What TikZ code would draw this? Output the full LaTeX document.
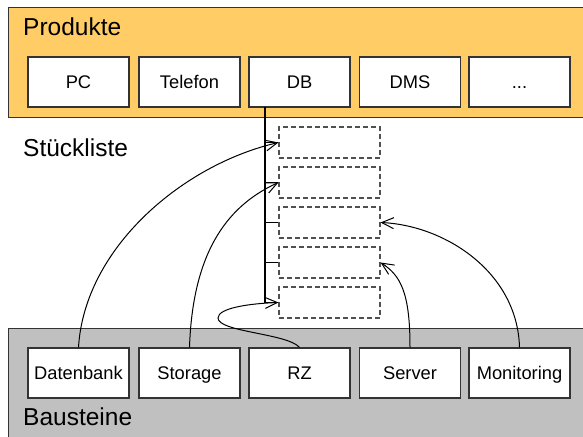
\documentclass[tikz,border=0pt]{standalone}
\usepackage{fontspec}
\setmainfont{Liberation Sans}
\usetikzlibrary{arrows.meta}
\definecolor{prodfill}{RGB}{255,204,102}
\definecolor{bausfill}{RGB}{192,192,192}
\definecolor{edgegray}{RGB}{51,51,51}
\definecolor{slotgray}{RGB}{80,80,80}
\begin{document}
\begin{tikzpicture}[x=1pt,y=-1pt,
  groupbox/.style={draw=edgegray, line width=1.2pt, anchor=north west, inner sep=0pt},
  itembox/.style={draw=edgegray, fill=white, line width=1.2pt, minimum width=101pt, minimum height=50pt, inner sep=0pt, text height=13.1pt, text depth=0pt, font=\fontsize{18.3}{20}\selectfont},
  slotbox/.style={draw=slotgray, line width=1.1pt, dash pattern=on 5pt off 3pt, minimum width=101pt, minimum height=31pt, inner sep=0pt},
  title/.style={anchor=base west, inner sep=0pt, font=\fontsize{24.5}{28}\selectfont},
  link/.style={line width=1pt, -{Straight Barb[length=12pt,width=11pt]}},
  treeline/.style={line width=1.1pt}]
\useasboundingbox (0,0) rectangle (583,436);
% group frames
\node[groupbox, fill=prodfill, minimum width=600pt, minimum height=110pt] (produkte) at (8,7) {};
\node[groupbox, fill=bausfill, minimum width=600pt, minimum height=130pt] (bausteine) at (8,328) {};
\node[title] (tprod) at (23,36) {Produkte};
\node[title] (tstueck) at (23,156) {Stückliste};
\node[title] (tbaus) at (23,425) {Bausteine};
% product boxes
\node[itembox] (pc) at (78.5,82) {PC};
\node[itembox] (telefon) at (189.5,82) {Telefon};
\node[itembox] (db) at (299.5,82) {DB};
\node[itembox] (dms) at (410,82) {DMS};
\node[itembox] (more) at (519.5,82) {...};
% building blocks
\node[itembox] (datenbank) at (78.5,373) {Datenbank};
\node[itembox] (storage) at (189.5,373) {Storage};
\node[itembox] (rz) at (299.5,373) {RZ};
\node[itembox] (server) at (410,373) {Server};
\node[itembox] (monitoring) at (519.5,373) {Monitoring};
% bill of material slots
\node[slotbox] (s1) at (329.5,142.5) {};
\node[slotbox] (s2) at (329.5,182.5) {};
\node[slotbox] (s3) at (329.5,222.5) {};
\node[slotbox] (s4) at (329.5,262.5) {};
\node[slotbox] (s5) at (329.5,302.5) {};
% tree from DB
\coordinate (dbout) at (265,107);
\draw[line width=1.6pt] (dbout) -- (dbout |- s2.west);
\foreach \i in {1,...,5} \draw[treeline] (dbout) |- (s\i.west);
% links
\draw[link] (datenbank.north) .. controls +(6,-100) and +(-95,22) .. (s1.west);
\draw[link] (storage.north) .. controls +(3,-90) and +(-55,25) .. (s2.west);
\coordinate (rzloop) at (218,318);
\draw[link] (rz.north) .. controls +(-12,-14) and +(0,14) .. (rzloop) .. controls +(0,-10) and +(-29,1) .. (s5.west);
\draw[link] (server.north) .. controls +(0,-55) and +(20,13) .. (s4.east);
\draw[link] (monitoring.north) .. controls +(-2,-75) and +(65,3) .. (s3.east);
\end{tikzpicture}
\end{document}
